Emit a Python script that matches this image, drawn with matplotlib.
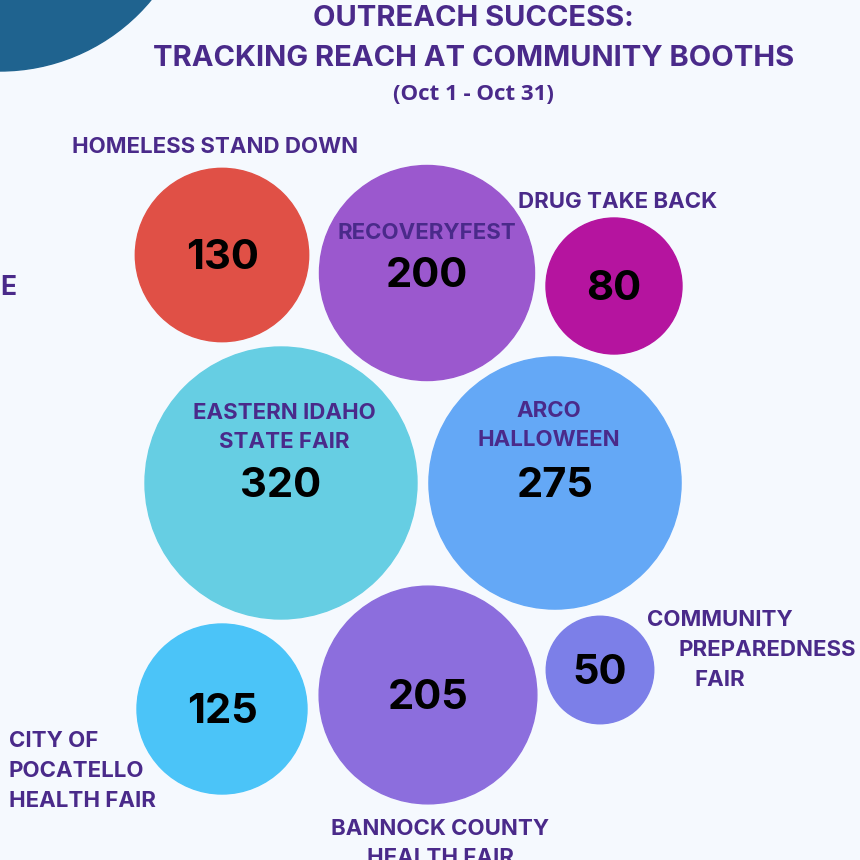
import matplotlib.pyplot as plt
from matplotlib.patches import Circle
import numpy as np

# Datos: personas alcanzadas por stand
events = ['HOMELESS STAND DOWN', 'RECOVERYFEST', 'DRUG TAKE BACK',
          'EASTERN IDAHO STATE FAIR', 'ARCO HALLOWEEN',
          'CITY OF POCATELLO HEALTH FAIR', 'BANNOCK COUNTY HEALTH FAIR',
          'COMMUNITY PREPAREDNESS FAIR']
reach = [130, 200, 80, 320, 275, 125, 205, 50]
colors = ['#E05046', '#9B58CE', '#B5149F', '#66CEE3', '#64A8F6',
          '#4BC4F8', '#8C6EDD', '#7C7FE8']

# posiciones de las burbujas (en pixeles de la imagen)
cx = [222, 427, 614, 281, 555, 222, 428, 600]
cy = [255, 273, 286, 483, 483, 709, 695, 670]

purple = '#4A2A8A'
bg = '#F5F9FE'
plt.rcParams['font.family'] = ['Inter', 'DejaVu Sans']

fig = plt.figure(figsize=(8.6, 8.6), dpi=100, facecolor=bg)
ax = fig.add_axes([0, 0, 1, 1])
ax.set_facecolor(bg)
ax.set_xlim(0, 860)
ax.set_ylim(860, 0)
ax.set_aspect('equal')
ax.axis('off')

# circulo decorativo arriba a la izquierda
ax.add_patch(Circle((0, -125), 196, color='#1F638F', zorder=1))

# radio proporcional a la raiz del valor
k = 136 / np.sqrt(320)
for i in range(len(reach)):
    r = k * np.sqrt(reach[i])
    ax.add_patch(Circle((cx[i], cy[i]), r, color=colors[i], zorder=2))
    ax.text(cx[i], cy[i] + 3, str(reach[i]), ha='center', va='center',
            fontsize=30, fontweight='bold', color='black', zorder=3)

lab = dict(color=purple, fontsize=16, fontweight='bold', va='center', zorder=4)
ax.text(215, 147, 'HOMELESS STAND DOWN', ha='center', **lab)
ax.text(427, 233, 'RECOVERYFEST', ha='center', **lab)
ax.text(618, 202, 'DRUG TAKE BACK', ha='center', **lab)
ax.text(284, 413, 'EASTERN IDAHO', ha='center', **lab)
ax.text(284, 442, 'STATE FAIR', ha='center', **lab)
ax.text(549, 411, 'ARCO', ha='center', **lab)
ax.text(549, 440, 'HALLOWEEN', ha='center', **lab)
ax.text(647, 620, 'COMMUNITY', ha='left', **lab)
ax.text(678, 650, 'PREPAREDNESS', ha='left', **lab)
ax.text(695, 680, 'FAIR', ha='left', **lab)
ax.text(9, 741, 'CITY OF', ha='left', **lab)
ax.text(9, 771, 'POCATELLO', ha='left', **lab)
ax.text(9, 801, 'HEALTH FAIR', ha='left', **lab)
ax.text(440, 829, 'BANNOCK COUNTY', ha='center', **lab)
ax.text(440, 858, 'HEALTH FAIR', ha='center', **lab)
ax.text(16, 288, 'E', ha='right', **dict(lab, fontsize=19))

# titulo
ax.text(473, 19, 'OUTREACH SUCCESS:', ha='center', va='center',
        color=purple, fontsize=21, fontweight='bold')
ax.text(474, 59, 'TRACKING REACH AT COMMUNITY BOOTHS', ha='center', va='center',
        color=purple, fontsize=21, fontweight='bold')
ax.text(473, 94, '(Oct 1 - Oct 31)', ha='center', va='center',
        color=purple, fontsize=16, fontweight='bold',
        family=['Open Sans', 'DejaVu Sans'])

fig.savefig('out.png', dpi=100, facecolor=bg)
